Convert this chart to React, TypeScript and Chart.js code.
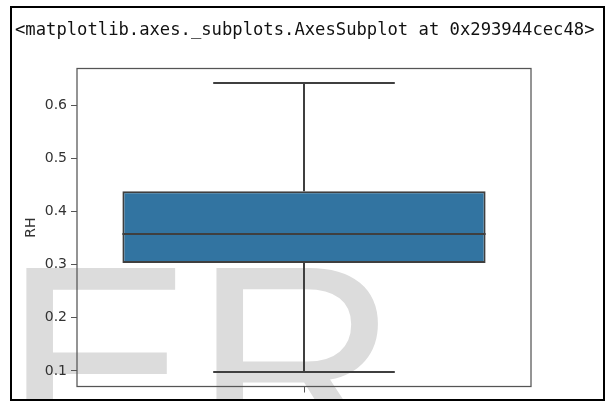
import React, { useEffect, useRef } from "react";
import { Chart, registerables } from "chart.js";

Chart.register(...registerables);

// Box-plot summary of relative humidity (RH)
const categories = [""];
const lowerWhisker = [0.098];
const q1Values = [0.303];
const medianValues = [0.358];
const q3Values = [0.438];
const upperWhisker = [0.642];

const yTickValues = [0.1, 0.2, 0.3, 0.4, 0.5, 0.6];

const headerText = "<matplotlib.axes._subplots.AxesSubplot at 0x293944cec48>";
const watermarkText = "ER";

const LINE = "#3f3f3f";
const SPINE = "#555555";

const watermarkPlugin = {
  id: "watermark",
  beforeDraw(chart: any) {
    const ctx = chart.ctx as CanvasRenderingContext2D;
    ctx.save();
    ctx.beginPath();
    ctx.rect(11, 7, 592, 392);
    ctx.clip();
    ctx.fillStyle = "#dcdcdc";
    ctx.font = '285px "Liberation Sans"';
    ctx.textBaseline = "alphabetic";
    ctx.textAlign = "left";
    ctx.fillText(watermarkText, 3, 464);
    ctx.restore();
  },
};

const boxPlotPlugin = {
  id: "boxWhiskers",
  afterDatasetsDraw(chart: any) {
    const ctx = chart.ctx as CanvasRenderingContext2D;
    const y = chart.scales.y;
    const meta = chart.getDatasetMeta(0);
    ctx.save();
    ctx.strokeStyle = LINE;
    ctx.lineWidth = 2;
    ctx.lineCap = "butt";
    const seg = (x1: number, y1: number, x2: number, y2: number) => {
      ctx.beginPath();
      ctx.moveTo(x1, y1);
      ctx.lineTo(x2, y2);
      ctx.stroke();
    };
    meta.data.forEach((bar: any, i: number) => {
      const { x, width } = bar.getProps(["x", "width"], true);
      const half = width / 2;
      const cap = width / 4;
      const yLo = y.getPixelForValue(lowerWhisker[i]);
      const yQ1 = y.getPixelForValue(q1Values[i]);
      const yMed = y.getPixelForValue(medianValues[i]);
      const yQ3 = y.getPixelForValue(q3Values[i]);
      const yHi = y.getPixelForValue(upperWhisker[i]);
      seg(x, yQ3, x, yHi);
      seg(x - cap, yHi, x + cap, yHi);
      seg(x, yQ1, x, yLo);
      seg(x - cap, yLo, x + cap, yLo);
      seg(x - half, yMed, x + half, yMed);
    });
    // axes frame on all four sides
    const a = chart.chartArea;
    ctx.strokeStyle = SPINE;
    ctx.lineWidth = 1.25;
    ctx.strokeRect(a.left, a.top, a.right - a.left, a.bottom - a.top);
    ctx.restore();
  },
};

export default function App() {
  const canvasRef = useRef<HTMLCanvasElement | null>(null);

  useEffect(() => {
    if (!canvasRef.current) return;
    const tickFont = { family: "DejaVu Sans", size: 14 };
    const chart = new Chart(canvasRef.current, {
      type: "bar",
      data: {
        labels: categories,
        datasets: [
          {
            label: "RH",
            data: categories.map((_, i) => [q1Values[i], q3Values[i]]) as any,
            backgroundColor: "#3274a1",
            borderColor: LINE,
            borderWidth: 2,
            borderSkipped: false,
            barPercentage: 0.8,
            categoryPercentage: 1,
          },
        ],
      },
      options: {
        animation: false,
        responsive: false,
        maintainAspectRatio: false,
        devicePixelRatio: 1,
        layout: { padding: { left: 0, top: 68.5, right: 74, bottom: 0 } },
        plugins: {
          legend: { display: false },
          tooltip: { enabled: false },
        },
        scales: {
          x: {
            type: "category",
            offset: true,
            grid: {
              display: true,
              drawOnChartArea: false,
              drawTicks: true,
              tickLength: 6,
              offset: false,
              color: SPINE,
            },
            border: { display: false },
            ticks: { font: tickFont, color: "#333" },
            afterFit: (scale: any) => {
              scale.height = 14.5;
            },
          },
          y: {
            type: "linear",
            min: 0.0708,
            max: 0.6692,
            grid: {
              drawOnChartArea: false,
              drawTicks: true,
              tickLength: 6,
              color: SPINE,
            },
            border: { display: false },
            ticks: {
              font: tickFont,
              color: "#333",
              padding: 4,
              callback: (v: any) => Number(v).toFixed(1),
            },
            title: {
              display: true,
              text: "RH",
              font: { family: "DejaVu Sans", size: 14 },
              color: "#333",
              padding: { top: 23, bottom: 0 },
            },
            afterBuildTicks: (scale: any) => {
              scale.ticks = yTickValues.map((v) => ({ value: v }));
            },
            afterFit: (scale: any) => {
              scale.width = 77;
            },
          },
        },
      },
      plugins: [watermarkPlugin, boxPlotPlugin],
    });
    return () => chart.destroy();
  }, []);

  return (
    <div
      style={{
        position: "fixed",
        left: 0,
        top: 0,
        width: 605,
        height: 401,
        background: "#ffffff",
        overflow: "hidden",
      }}
    >
      <canvas
        ref={canvasRef}
        width={605}
        height={401}
        style={{ position: "absolute", left: 0, top: 0, display: "block" }}
      />
      <div
        style={{
          position: "absolute",
          left: 15,
          top: 18.5,
          fontFamily: "DejaVu Sans Mono",
          fontSize: 17.2,
          lineHeight: "20px",
          color: "#111",
          whiteSpace: "pre",
        }}
      >
        {headerText}
      </div>
      <div
        style={{
          position: "absolute",
          left: 9.5,
          top: 5.5,
          width: 591,
          height: 391,
          border: "2px solid #000",
          pointerEvents: "none",
        }}
      />
    </div>
  );
}
